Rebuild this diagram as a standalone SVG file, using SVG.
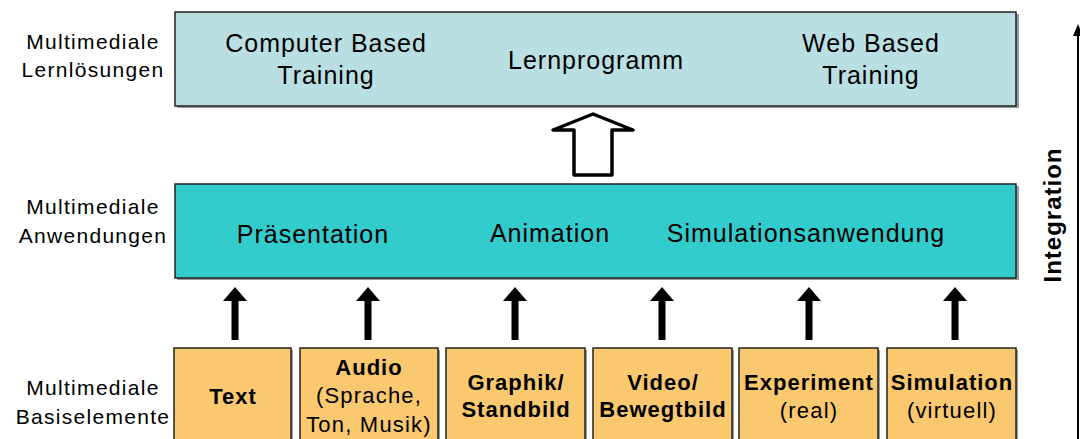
<svg xmlns="http://www.w3.org/2000/svg" width="1080" height="439" viewBox="0 0 1080 439">
<style>
text{font-family:"Liberation Sans",Arial,sans-serif;fill:#000}
.lbl{font-size:21px;letter-spacing:1.3px;text-anchor:middle}
.big{font-size:25px;letter-spacing:1px;text-anchor:middle}
.sm{font-size:22px;letter-spacing:1.2px;text-anchor:middle}
.b{font-weight:bold;letter-spacing:1px}
.shadow{fill:#9a9a9a}
.top{fill:#BADFE2;stroke:#222;stroke-width:1.5}
.mid{fill:#33CCCC;stroke:#222;stroke-width:1.5}
.base{fill:#FAC86E;stroke:#222;stroke-width:1.5}
.arr{fill:#000}
</style>
<rect width="1080" height="439" fill="#fff"/>

<g id="labels">
<text class="lbl" x="93" y="49">Multimediale</text>
<text class="lbl" x="93" y="77">Lernlösungen</text>
<text class="lbl" x="93" y="214">Multimediale</text>
<text class="lbl" x="93" y="243">Anwendungen</text>
<text class="lbl" x="93" y="395">Multimediale</text>
<text class="lbl" x="93" y="424">Basiselemente</text>
</g>

<g id="lernloesungen">
<rect class="shadow" x="177" y="14" width="842" height="94"/>
<rect class="top" x="175" y="12" width="841" height="94"/>
<text class="big" x="326" y="52">Computer Based</text>
<text class="big" x="326" y="84">Training</text>
<text class="big" x="596" y="69">Lernprogramm</text>
<text class="big" x="871" y="52">Web Based</text>
<text class="big" x="871" y="84">Training</text>
</g>

<g id="anwendungen">
<rect class="shadow" x="177" y="186" width="842" height="94"/>
<rect class="mid" x="175" y="184" width="841" height="94"/>
<text class="big" x="313" y="243">Präsentation</text>
<text class="big" x="550" y="242">Animation</text>
<text class="big" x="806" y="242">Simulationsanwendung</text>
</g>

<g id="text-node">
<rect class="shadow" x="176" y="350" width="117" height="100"/>
<rect class="base" x="174" y="348" width="117" height="100"/>
<text class="sm b" x="233" y="404">Text</text>
</g>
<g id="audio-node">
<rect class="shadow" x="302" y="350" width="138" height="100"/>
<rect class="base" x="300" y="348" width="138" height="100"/>
<text class="sm b" x="369" y="375">Audio</text>
<text class="sm" x="369" y="403">(Sprache,</text>
<text class="sm" x="369" y="432">Ton, Musik)</text>
</g>
<g id="graphik-node">
<rect class="shadow" x="448" y="350" width="139" height="100"/>
<rect class="base" x="446" y="348" width="139" height="100"/>
<text class="sm b" x="516" y="390">Graphik/</text>
<text class="sm b" x="516" y="417">Standbild</text>
</g>
<g id="video-node">
<rect class="shadow" x="595" y="350" width="139" height="100"/>
<rect class="base" x="593" y="348" width="139" height="100"/>
<text class="sm b" x="663" y="390">Video/</text>
<text class="sm b" x="663" y="417">Bewegtbild</text>
</g>
<g id="experiment-node">
<rect class="shadow" x="741" y="350" width="139" height="100"/>
<rect class="base" x="739" y="348" width="139" height="100"/>
<text class="sm b" x="809" y="390">Experiment</text>
<text class="sm" x="809" y="418">(real)</text>
</g>
<g id="simulation-node">
<rect class="shadow" x="889" y="350" width="129" height="100"/>
<rect class="base" x="887" y="348" width="129" height="100"/>
<text class="sm b" x="952" y="390">Simulation</text>
<text class="sm" x="952" y="418">(virtuell)</text>
</g>

<g id="integration">
<line x1="1078" y1="32" x2="1078" y2="439" stroke="#000" stroke-width="2"/>
<path d="M1078,24 L1083,36 L1073,36 Z" fill="#000"/>
<text font-weight="bold" font-size="24" letter-spacing="1" text-anchor="middle" transform="translate(1061,215) rotate(-90)">Integration</text>
</g>

<g id="connectors">
<polygon points="593,114 633,130 612,130 612,175 574,175 574,130 553,130" fill="#fff" stroke="#000" stroke-width="3.5" stroke-linejoin="round"/>
<path class="arr" d="M231.5,340 V301 H223 L235,287 L247,301 H238.5 V340 Z"/>
<path class="arr" d="M364.5,340 V301 H356 L368,287 L380,301 H371.5 V340 Z"/>
<path class="arr" d="M511.5,340 V301 H503 L515,287 L527,301 H518.5 V340 Z"/>
<path class="arr" d="M658.5,340 V301 H650 L662,287 L674,301 H665.5 V340 Z"/>
<path class="arr" d="M805.5,340 V301 H797 L809,287 L821,301 H812.5 V340 Z"/>
<path class="arr" d="M951.5,340 V301 H943 L955,287 L967,301 H958.5 V340 Z"/>
</g>
</svg>
